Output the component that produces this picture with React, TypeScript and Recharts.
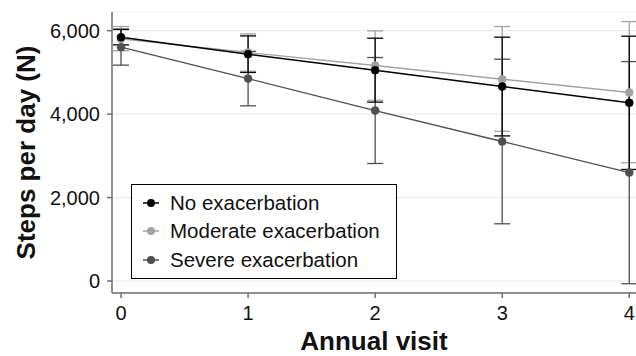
import React from 'react';
import { LineChart, Line, XAxis, YAxis, CartesianGrid, ErrorBar } from 'recharts';

const visits = [0, 1, 2, 3, 4];
const xTicks = [0, 1, 2, 3, 4];
const yTicks = [0, 2000, 4000, 6000];

const noMean = [5844, 5437, 5054, 4661, 4271];
const noLow = [5660, 4999, 4288, 3478, 2674];
const noHigh = [6030, 5875, 5820, 5844, 5868];

const modMean = [5803, 5476, 5164, 4837, 4518];
const modLow = [5520, 5029, 4333, 3590, 2836];
const modHigh = [6100, 5923, 5995, 6099, 6218];

const sevMean = [5605, 4852, 4087, 3344, 2600];
const sevLow = [5174, 4199, 2817, 1372, -65];
const sevHigh = [6036, 5505, 5357, 5316, 5260];

const seriesNames = ['No exacerbation', 'Moderate exacerbation', 'Severe exacerbation'];
const seriesColors = ['#000000', '#a3a3a3', '#4f4f4f'];

const data = visits.map((v, i) => ({
  visit: v,
  no: noMean[i],
  noErr: [noMean[i] - noLow[i], noHigh[i] - noMean[i]],
  mod: modMean[i],
  modErr: [modMean[i] - modLow[i], modHigh[i] - modMean[i]],
  sev: sevMean[i],
  sevErr: [sevMean[i] - sevLow[i], sevHigh[i] - sevMean[i]],
}));

const FONT = '"Liberation Sans", Arial, Helvetica, sans-serif';

const LegendBox = () => (
  <div
    style={{
      position: 'absolute',
      left: 131,
      top: 184,
      border: '1.3px solid #000',
      background: '#fff',
      boxSizing: 'border-box',
      width: 266,
      height: 95,
      padding: '4px 0 0 10px',
      fontFamily: FONT,
      fontSize: 20.5,
      color: '#111',
    }}
  >
    {seriesNames.map((n, i) => (
      <div key={n} style={{ display: 'flex', alignItems: 'center', height: 28.3 }}>
        <svg width={28} height={12}>
          <line x1={1} y1={6} x2={17} y2={6} stroke={seriesColors[i]} strokeWidth={1.5} />
          <circle cx={9} cy={6} r={4} fill={seriesColors[i]} />
        </svg>
        <span>{n}</span>
      </div>
    ))}
  </div>
);

const YTitle = (props: any) => {
  const vb = props.viewBox || {};
  const cx = 25.5;
  const cy = vb.y + vb.height / 2;
  return (
    <text
      x={cx}
      y={cy}
      transform={`rotate(-90, ${cx}, ${cy})`}
      textAnchor="middle"
      dominantBaseline="central"
      fontFamily={FONT}
      fontWeight="bold"
      fontSize={26}
      fill="#111"
    >
      Steps per day (N)
    </text>
  );
};

const XTitle = (props: any) => {
  const vb = props.viewBox || {};
  const cx = vb.x + vb.width / 2;
  const cy = vb.y + 48;
  return (
    <text
      x={cx}
      y={cy}
      textAnchor="middle"
      dominantBaseline="central"
      fontFamily={FONT}
      fontWeight="bold"
      fontSize={26}
      fill="#111"
    >
      Annual visit
    </text>
  );
};

export default function App() {
  return (
    <div style={{ position: 'absolute', left: 0, top: 0, width: 636, height: 356, background: '#fff' }}>
      <LineChart width={636} height={356} data={data} margin={{ top: 12, right: 0, bottom: 0, left: 0 }}>
        <CartesianGrid vertical={false} stroke="#e3edf2" strokeWidth={1.2} />
        <XAxis
          dataKey="visit"
          type="number"
          domain={[-0.071, 4.053]}
          ticks={xTicks}
          allowDataOverflow
          height={63}
          stroke="#6e6e6e"
          strokeWidth={1.5}
          tickSize={5}
          tickMargin={8}
          tick={{ fill: '#111', fontSize: 20, fontFamily: FONT }}
          label={<XTitle />}
        />
        <YAxis
          type="number"
          domain={[-287, 6448]}
          ticks={yTicks}
          allowDataOverflow
          width={112}
          stroke="#6e6e6e"
          strokeWidth={1.5}
          tickSize={5}
          tickMargin={7}
          tickFormatter={(v: number) => v.toLocaleString('en-US')}
          tick={{ fill: '#111', fontSize: 20, fontFamily: FONT }}
          label={<YTitle />}
        />
        <Line
          dataKey="sev"
          name={seriesNames[2]}
          stroke={seriesColors[2]}
          strokeWidth={1.3}
          dot={{ r: 4, fill: seriesColors[2], stroke: seriesColors[2], strokeWidth: 0.5 }}
          isAnimationActive={false}
        >
          <ErrorBar dataKey="sevErr" width={8} stroke={seriesColors[2]} strokeWidth={1.3} direction="y" />
        </Line>
        <Line
          dataKey="mod"
          name={seriesNames[1]}
          stroke={seriesColors[1]}
          strokeWidth={1.4}
          dot={{ r: 4, fill: seriesColors[1], stroke: seriesColors[1], strokeWidth: 0.5 }}
          isAnimationActive={false}
        >
          <ErrorBar dataKey="modErr" width={8} stroke={seriesColors[1]} strokeWidth={1.3} direction="y" />
        </Line>
        <Line
          dataKey="no"
          name={seriesNames[0]}
          stroke={seriesColors[0]}
          strokeWidth={1.5}
          dot={{ r: 4, fill: seriesColors[0], stroke: seriesColors[0], strokeWidth: 0.5 }}
          isAnimationActive={false}
        >
          <ErrorBar dataKey="noErr" width={8} stroke={seriesColors[0]} strokeWidth={1.3} direction="y" />
        </Line>
      </LineChart>
      <LegendBox />
    </div>
  );
}
